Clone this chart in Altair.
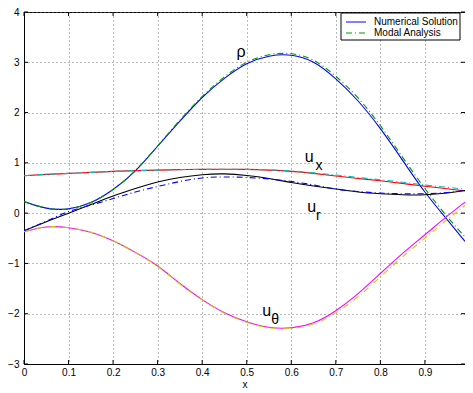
import altair as alt
import pandas as pd

# ---- data ----
x_vals = [0.0, 0.05, 0.1, 0.15, 0.2, 0.25, 0.3, 0.35, 0.4, 0.45, 0.5,
          0.55, 0.6, 0.65, 0.7, 0.75, 0.8, 0.85, 0.9, 0.95, 0.99]

rho_num = [0.23, 0.10, 0.085, 0.21, 0.47, 0.84, 1.33, 1.83, 2.30, 2.68, 2.97,
           3.12, 3.14, 3.00, 2.67, 2.23, 1.68, 1.05, 0.42, -0.13, -0.56]
rho_mod = [0.23, 0.10, 0.085, 0.21, 0.47, 0.85, 1.34, 1.85, 2.32, 2.71, 3.00,
           3.15, 3.17, 3.04, 2.72, 2.29, 1.74, 1.11, 0.49, -0.07, -0.47]
ux_num = [0.745, 0.77, 0.79, 0.81, 0.83, 0.845, 0.856, 0.865, 0.87, 0.873, 0.87,
          0.855, 0.83, 0.79, 0.74, 0.69, 0.645, 0.59, 0.535, 0.485, 0.44]
ux_mod = [0.745, 0.77, 0.79, 0.81, 0.83, 0.845, 0.856, 0.865, 0.87, 0.873, 0.87,
          0.86, 0.84, 0.80, 0.76, 0.71, 0.665, 0.615, 0.56, 0.515, 0.475]
ur_num = [-0.35, -0.17, 0.0, 0.17, 0.34, 0.49, 0.62, 0.71, 0.765, 0.78, 0.75,
          0.69, 0.61, 0.54, 0.48, 0.42, 0.385, 0.365, 0.365, 0.40, 0.45]
ur_mod = [-0.35, -0.16, 0.03, 0.16, 0.29, 0.42, 0.53, 0.63, 0.70, 0.72, 0.71,
          0.68, 0.63, 0.56, 0.48, 0.43, 0.40, 0.385, 0.385, 0.41, 0.45]
ut_num = [-0.37, -0.275, -0.29, -0.38, -0.55, -0.78, -1.05, -1.40, -1.72, -1.98, -2.16,
          -2.27, -2.28, -2.18, -1.94, -1.60, -1.20, -0.80, -0.43, -0.06, 0.22]
ut_mod = [-0.37, -0.275, -0.29, -0.38, -0.55, -0.79, -1.06, -1.41, -1.73, -1.99, -2.17,
          -2.28, -2.29, -2.20, -1.98, -1.66, -1.27, -0.87, -0.50, -0.13, 0.15]

x_ticks = [0, 0.1, 0.2, 0.3, 0.4, 0.5, 0.6, 0.7, 0.8, 0.9]
y_ticks = [-3, -2, -1, 0, 1, 2, 3, 4]

series = [
    ("rho_num", rho_num, "#0000ff", None),
    ("ux_num", ux_num, "#ff0000", None),
    ("ur_num", ur_num, "#000000", None),
    ("ut_num", ut_num, "#ff00ff", None),
    ("rho_mod", rho_mod, "#009900", [6, 3, 1, 3]),
    ("ux_mod", ux_mod, "#00bfbf", [6, 3, 1, 3]),
    ("ur_mod", ur_mod, "#0000ff", [6, 3, 1, 3]),
    ("ut_mod", ut_mod, "#cccc00", [6, 3, 1, 3]),
]

rows = []
for name, vals, _, _ in series:
    for xv, yv in zip(x_vals, vals):
        rows.append({"x": xv, "y": yv, "s": name})
df = pd.DataFrame(rows)

FONT = "Liberation Sans"
W, H = 441, 352

xscale = alt.Scale(domain=[0, 0.99], nice=False, zero=False)
yscale = alt.Scale(domain=[-3, 4], nice=False, zero=False)

xaxis = alt.Axis(values=x_ticks, title="x", format="~g", grid=True, gridDash=[1, 3],
                 gridColor="#707070", ticks=False, domainColor="black",
                 labelFont=FONT, labelFontSize=10, labelColor="black", labelPadding=3,
                 titleFont=FONT, titleFontSize=10, titleFontWeight="normal",
                 titleColor="black", titlePadding=2, labelFlush=False)
yaxis = alt.Axis(values=y_ticks, title=None, grid=True, gridDash=[1, 3],
                 gridColor="#707070", ticks=False, domainColor="black",
                 labelFont=FONT, labelFontSize=10, labelColor="black", labelPadding=5,
                 labelFlush=False)

def X():
    return alt.X("x:Q", scale=xscale, axis=xaxis)

def Y():
    return alt.Y("y:Q", scale=yscale, axis=yaxis)

layers = []

# inward tick marks on all four sides
xt = pd.DataFrame({"x": x_ticks})
yt = pd.DataFrame({"y": y_ticks})
layers.append(alt.Chart(xt).mark_rule(color="black", strokeWidth=1)
              .encode(x=X(), y=alt.value(H), y2=alt.value(H - 4)))
layers.append(alt.Chart(xt).mark_rule(color="black", strokeWidth=1)
              .encode(x=X(), y=alt.value(0), y2=alt.value(4)))
layers.append(alt.Chart(yt).mark_rule(color="black", strokeWidth=1)
              .encode(y=Y(), x=alt.value(0), x2=alt.value(4)))
layers.append(alt.Chart(yt).mark_rule(color="black", strokeWidth=1)
              .encode(y=Y(), x=alt.value(W - 4), x2=alt.value(W)))

for name, vals, color, dash in series:
    mk = dict(color=color, strokeWidth=1.1, interpolate="natural", clip=True)
    if dash:
        mk["strokeDash"] = dash
    layers.append(
        alt.Chart(df).transform_filter(alt.datum.s == name)
        .mark_line(**mk).encode(x=X(), y=Y())
    )

# curve labels (main letter + subscript)
lab_main = pd.DataFrame({"x": [0.487, 0.64, 0.646, 0.545],
                         "y": [3.2, 1.12, 0.12, -1.95],
                         "t": ["ρ", "u", "u", "u"]})
lab_sub = pd.DataFrame({"x": [0.662, 0.661, 0.564],
                        "y": [0.93, -0.05, -2.13],
                        "t": ["x", "r", "θ"]})
layers.append(alt.Chart(lab_main).mark_text(font=FONT, fontSize=16, color="black",
                                            baseline="middle", align="center")
              .encode(x=X(), y=Y(), text="t:N"))
layers.append(alt.Chart(lab_sub).mark_text(font=FONT, fontSize=14, color="black",
                                           baseline="middle", align="center")
              .encode(x=X(), y=Y(), text="t:N"))

# legend box (pixel space)
LX0, LX1, LY0, LY1 = 317, 436, 1, 28
one = pd.DataFrame({"a": [0]})
layers.append(alt.Chart(one).mark_rect(fill="white", stroke="black", strokeWidth=1)
              .encode(x=alt.value(LX0), x2=alt.value(LX1), y=alt.value(LY0), y2=alt.value(LY1)))
layers.append(alt.Chart(one).mark_rule(color="#0000ff", strokeWidth=1)
              .encode(x=alt.value(LX0 + 5), x2=alt.value(LX0 + 25), y=alt.value(LY0 + 9)))
layers.append(alt.Chart(one).mark_rule(color="#009900", strokeWidth=1, strokeDash=[6, 3, 1, 3])
              .encode(x=alt.value(LX0 + 5), x2=alt.value(LX0 + 25), y=alt.value(LY0 + 20)))
layers.append(alt.Chart(one).mark_text(font=FONT, fontSize=10, align="left",
                                       baseline="middle", color="black")
              .encode(x=alt.value(LX0 + 33), y=alt.value(LY0 + 8.5), text=alt.value("Numerical Solution")))
layers.append(alt.Chart(one).mark_text(font=FONT, fontSize=10, align="left",
                                       baseline="middle", color="black")
              .encode(x=alt.value(LX0 + 33), y=alt.value(LY0 + 19.5), text=alt.value("Modal Analysis")))

chart = alt.layer(*layers).properties(
    width=W, height=H,
    background="white",
    autosize=alt.AutoSizeParams(type="none"),
    padding={"left": 16, "top": 4, "right": 0, "bottom": 25},
).configure_view(stroke="black", strokeWidth=1)

chart.save("out.html", embed_options={"renderer": "svg", "actions": False})
